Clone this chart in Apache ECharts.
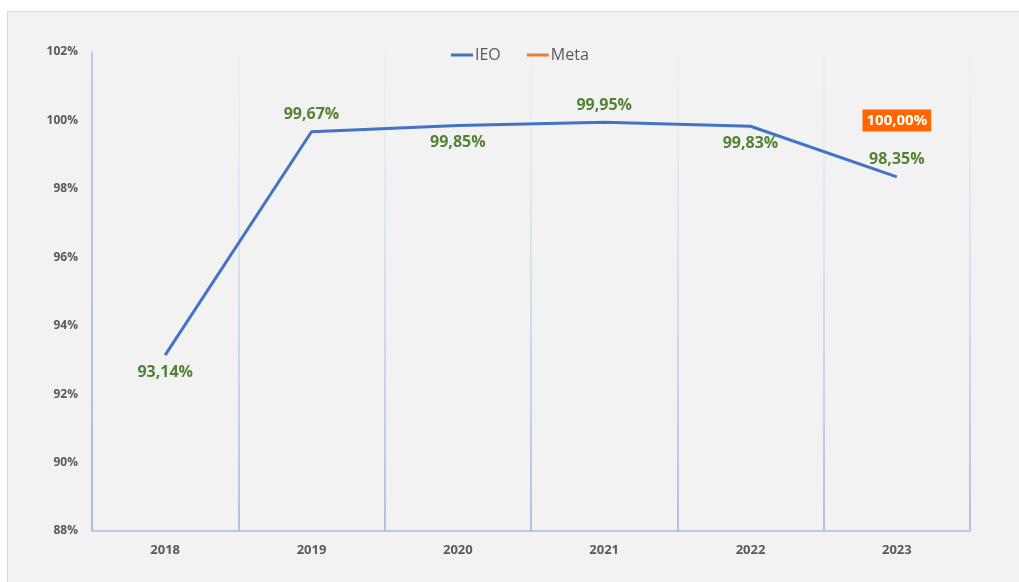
<!DOCTYPE html>
<html>
<head>
<meta charset="utf-8">
<script src="https://cdn.jsdelivr.net/npm/echarts@6/dist/echarts.min.js"></script>
<style>
  html, body { margin: 0; padding: 0; background: #ffffff; }
  #frame { position: absolute; left: 7px; top: 11px; width: 1012px; height: 571px;
           background: #f2f2f2; border-top: 1px solid #d9d9d9; border-left: 1px solid #d9d9d9; box-sizing: border-box; }
  #chart { position: absolute; left: 0; top: 0; width: 1019px; height: 582px; }
</style>
</head>
<body>
<div id="frame"></div>
<div id="chart"></div>
<script>
// Yearly results against the target
const years = ['2018', '2019', '2020', '2021', '2022', '2023'];
const ieoValues = [93.14, 99.67, 99.85, 99.95, 99.83, 98.35];
const metaValues = [null, null, null, null, null, 100.00];
// IEO labels alternate above/below the line
const ieoLabelSides = ['bottom', 'top', 'bottom', 'top', 'bottom', 'top'];

const fmt = v => v.toFixed(2).replace('.', ',') + '%';

const chart = echarts.init(document.getElementById('chart'), null, { renderer: 'canvas' });

const gridTop = 52, gridBottomY = 531;

chart.setOption({
  backgroundColor: 'transparent',
  animation: false,
  textStyle: { fontFamily: 'Open Sans, Liberation Sans, sans-serif' },
  legend: {
    left: 451, top: 47, padding: 0,
    itemWidth: 22, itemHeight: 3, itemGap: 26,
    icon: 'rect',
    textStyle: { color: '#595959', fontSize: 16, padding: [0, 0, 0, -3] },
    data: ['IEO', 'Meta']
  },
  grid: { left: 92, right: 49, top: gridTop, bottom: 582 - gridBottomY, containLabel: false },
  xAxis: {
    type: 'category',
    data: years,
    boundaryGap: true,
    axisLine: { show: true, lineStyle: { color: '#a9bde3', width: 1.5 } },
    axisTick: { show: false },
    axisLabel: { color: '#595959', fontWeight: 'bold', fontSize: 13, margin: 13 },
    splitLine: {
      show: true,
      lineStyle: {
        width: 2,
        color: {
          type: 'linear', global: true,
          x: 0, y: gridTop, x2: 0, y2: gridBottomY,
          colorStops: [
            { offset: 0, color: 'rgba(200,214,240,0.05)' },
            { offset: 0.6, color: 'rgba(180,199,234,0.6)' },
            { offset: 1, color: 'rgba(168,190,230,0.95)' }
          ]
        }
      }
    }
  },
  yAxis: {
    type: 'value',
    min: 88, max: 102, interval: 2,
    axisLine: { show: true, lineStyle: { color: '#a9bde3', width: 1.5 } },
    axisTick: { show: false },
    splitLine: { show: false },
    axisLabel: {
      color: '#595959', fontWeight: 'bold', fontSize: 12, margin: 14,
      formatter: v => v + '%'
    }
  },
  series: [
    {
      name: 'IEO',
      type: 'line',
      data: ieoValues.map((v, i) => ({
        value: v,
        label: { position: ieoLabelSides[i] }
      })),
      color: '#4472c4',
      lineStyle: { color: '#4472c4', width: 3 },
      symbol: 'circle', symbolSize: 0, showSymbol: true,
      label: {
        show: true,
        distance: 9,
        color: '#548235', fontWeight: 'bold', fontSize: 16,
        formatter: p => fmt(p.value)
      }
    },
    {
      name: 'Meta',
      type: 'line',
      data: metaValues,
      color: '#ed7d31',
      lineStyle: { color: '#ed7d31', width: 3 },
      symbol: 'circle', symbolSize: 0, showSymbol: true,
      label: {
        show: true,
        position: 'inside',
        backgroundColor: '#ff6600',
        padding: [4, 4, 3, 4],
        color: '#ffffff', fontWeight: 'bold', fontSize: 15,
        formatter: p => fmt(p.value)
      }
    }
  ]
});
</script>
</body>
</html>
